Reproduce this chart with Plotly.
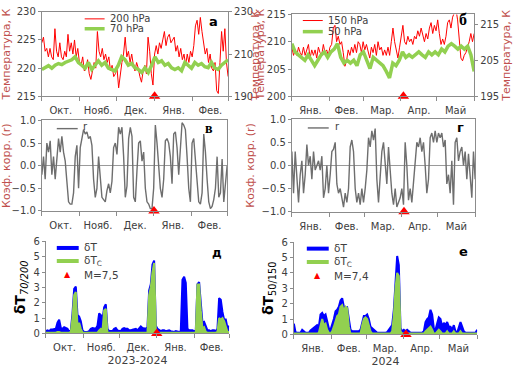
import plotly.graph_objects as go
import pandas as pd

W, H = 514, 373

# ---------------- data ----------------
start_1, end_1 = "2023-10-01", "2024-03-01"
start_2, end_2 = "2024-01-01", "2024-06-01"
quake_1 = "2024-01-01"   # M=7,5
quake_2 = "2024-04-03"   # M=7,4

months_1 = ["Окт.", "Нояб.", "Дек.", "Янв.", "Фев."]
months_2 = ["Янв.", "Фев.", "Мар.", "Апр.", "Май"]

# panel a: 200 hPa (left axis) and 70 hPa (right axis), K
t200 = [224.5, 225.5, 223, 223.5, 222, 223.5, 222, 221.5, 227, 223, 222, 224.5, 222, 221.5, 223, 222,
        226, 223, 224.5, 222.5, 225, 222, 223.5, 221, 220.5, 222, 219.5, 220, 221.5, 219, 218, 219.5,
        221, 220, 226.5, 223, 222, 223.5, 221.5, 222.5, 221, 222, 219.5, 220.5, 218.5, 219, 220, 216.5,
        219, 221, 222.5, 225.5, 222, 223, 221, 222.5, 220.5, 219.5, 221, 220, 218.5, 217.5, 219.5, 220.5,
        219, 225.5, 223, 219, 217, 222.5, 224, 222.5, 224.5, 223.5, 225, 226.5, 224, 225.5, 226, 224.5,
        225, 225.5, 223, 224, 222, 223.5, 221.5, 222.5, 220.5, 222.5, 221, 223, 222, 224, 227.5, 228.5,
        226, 229, 226.5, 224, 222.5, 223.5, 221, 222.5, 220, 219.5, 221, 216, 215.5, 221, 226.5, 223,
        227, 221, 218.5]
t70 = [202.7, 203.5, 204.5, 203.3, 204.7, 205.5, 205.0, 206.0, 206.5, 207.3, 208.7, 206.0, 204.7, 203.3,
       206.0, 202.7, 204.7, 206.8, 204.7, 206.0, 203.3, 202.7, 202.0, 204.7, 208.7, 207.3, 204.7, 205.5,
       203.5, 202.7, 201.3, 203.5, 201.3, 204.7, 208.7, 206.0, 206.8, 204.7, 205.5, 203.5, 202.7, 203.5,
       202.1, 206.0, 204.7, 203.3, 206.0, 204.7, 205.5, 204.0, 203.5, 206.0, 203.3, 202.7, 204.7, 206.0,
       207.3]

# panel b: 150 hPa (left axis) and 50 hPa (right axis), K
t150 = [209, 207.5, 208.5, 207.5, 209, 208, 207.5, 209, 207.5, 208.5, 209.5, 207, 208.5, 207.5, 208.5,
        207, 209, 208, 207.5, 209.5, 208, 208.5, 207.5, 209, 209.5, 212.5, 213, 210, 211, 209.5, 210, 208,
        205.5, 206.5, 208.5, 207.5, 209, 208, 209.5, 208, 210, 209.5, 208, 210, 208.5, 209.5, 208, 207,
        209, 208, 209.5, 207.5, 210, 208.5, 209, 207.5, 208.5, 207.5, 209, 207.5, 210, 212.5, 210, 208.5,
        207, 209, 211, 213, 210, 209.5, 211, 210, 210.5, 209.5, 211, 210.5, 212, 211, 212.5, 211, 210,
        211.5, 210.5, 212.5, 213.5, 211.5, 213, 212, 214, 211.5, 209.5, 210.5, 209.5, 211, 213.5, 214,
        212.5, 214.5, 215.5, 216, 214, 210, 207, 206.5, 207.5, 208, 209, 210, 211.5, 210, 211.5]
t50 = [209.6, 207.3, 206.5, 205.8, 205.0, 206.5, 205.0, 203.5, 205.0, 206.5, 207.3, 205.8, 207.3, 208.1,
       209.6, 205.8, 204.2, 205.0, 204.2, 205.0, 203.5, 206.5, 207.3, 205.0, 202.7, 205.8, 205.0, 204.2,
       203.5, 201.9, 200.1, 204.2, 203.5, 205.0, 207.3, 205.8, 206.5, 205.8, 206.5, 207.3, 206.5, 205.8,
       207.3, 206.5, 207.3, 206.5, 208.1, 207.3, 208.9, 209.6, 208.9, 208.1, 208.9, 208.1, 208.9, 206.5,
       201.9]

# panels c, d: correlation coefficient r
r_1 = [-0.2, 0.2, -0.3, 0.5, 0.3, 0.55, -0.2, 0.2, -0.3, 0.1, 0.6, 0.3, 0.65, 0.3, 0.1, -0.35, -0.8,
       -0.85, -0.85, -0.6, 0.2, 0.45, -0.5, 0.4, 0.6, 0.8, 0.7, 0.75, 0.6, 0.65, 0.45, -0.3, -0.7, -0.5,
       0.2, -0.2, -0.7, -0.75, -0.8, -0.55, -0.4, -0.6, -0.35, 0.4, 0.5, 0.25, 0.85, 0.7, 0.85, 0.2, -0.7,
       -0.45, 0.6, 0.85, 0.65, -0.7, -0.8, -0.1, 0.5, 0.55, 0.1, 0.3, -0.5, -0.8, -0.85, -0.95, -0.95,
       -0.5, 0.9, 0.5, -0.1, -0.5, -0.7, -0.3, 0.55, 0.6, 0.5, 0.2, -0.4, 0.7, 0.75, 0.4, -0.2, 0.5, 0.95,
       0.9, 0.8, 0.2, -0.5, -0.8, 0.5, 0.6, 0.1, -0.4, -0.8, -0.85, -0.6, 0.7, 0.3, -0.3, -0.8, -0.95,
       -0.9, -0.75, -0.5, 0.2, -0.7, -0.6, 0.15, -0.8, -0.3, 0.0]
r_2 = [0.3, -0.6, 0.3, -0.3, -0.8, -0.2, 0.1, -0.6, -0.2, 0.45, 0.0, 0.2, -0.3, 0.3, -0.1, 0.0, 0.1,
       -0.1, 0.2, -0.7, -0.5, 0.0, -0.6, -0.2, 0.3, 0.35, 0.5, -0.4, -0.6, -0.5, -0.7, -0.9, -0.6, -0.8,
       -0.5, 0.4, 0.55, 0.3, -0.5, -0.8, -0.6, -0.85, -0.5, -0.8, -0.5, -0.1, 0.6, 0.4, 0.75, 0.55, 0.8,
       -0.3, -0.8, -0.3, 0.3, 0.5, 0.0, -0.4, 0.4, -0.2, -0.6, -0.85, -0.5, -0.9, -0.8, -0.7, -0.5, -0.85,
       0.5, 0.0, -0.75, -0.5, -0.8, -0.3, 0.1, 0.5, 0.4, 0.6, 0.3, 0.5, 0.0, -0.6, -0.3, 0.6, 0.7, 0.5,
       0.75, 0.5, 0.7, 0.6, 0.7, 0.4, 0.55, -0.4, -0.2, -0.6, 0.1, -0.85, 0.5, 0.6, 0.1, 0.3, 0.4, 0.0,
       0.3, -0.3, 0.25, -0.3, -0.7, 0.3, -0.3]

# panels e, f: dT and dTc
dT_1 = [0.15, 0.2, 0.15, 0.25, 0.25, 0.3, 0.3, 0.7, 0.9, 0.35, 0.3, 0.4, 0.35, 0.3, 0.1, 0.2, 1.3, 2.9,
        3.05, 1.2, 1.1, 0.8, 0.2, 0.1, 0.1, 0.1, 0.15, 0.3, 0.35, 0.3, 0.3, 0.5, 1.3, 1.2, 0.9, 1.7, 1.9,
        0.3, 0.15, 0.15, 0.15, 0.3, 0.35, 0.2, 0.15, 0.15, 0.3, 0.35, 0.3, 0.3, 0.2, 0.2, 0.25, 0.3, 0.3,
        0.2, 0.3, 0.45, 0.35, 0.3, 0.3, 0.4, 2.8, 3.2, 4.5, 4.75, 0.5, 0.3, 0.2, 0.15, 0.2, 0.2, 0.15,
        0.2, 0.2, 0.15, 0.1, 0.1, 0.15, 0.1, 0.1, 0.15, 3.5, 3.7, 3.3, 0.3, 0.2, 0.2, 0.2, 0.15, 0.2, 3.2,
        3.35, 2.0, 0.7, 0.75, 0.4, 0.2, 0.2, 0.15, 0.2, 0.2, 0.15, 0.3, 2.3, 2.2, 1.4, 0.9, 0.9, 0.35,
        0.5]
dTc_1 = [0.05, 0.05, 0.05, 0.05, 0.05, 0.05, 0.05, 0.1, 0.1, 0.05, 0.05, 0.05, 0.05, 0.05, 0.05, 0.1,
         1.0, 2.5, 2.7, 0.5, 0.7, 0.3, 0.05, 0.05, 0.05, 0.05, 0.05, 0.05, 0.05, 0.05, 0.05, 0.05, 0.2,
         0.3, 0.2, 1.5, 1.6, 0.05, 0.05, 0.05, 0.05, 0.05, 0.05, 0.05, 0.05, 0.05, 0.05, 0.05, 0.05, 0.05,
         0.05, 0.05, 0.05, 0.05, 0.05, 0.05, 0.05, 0.05, 0.05, 0.05, 0.05, 0.05, 2.5, 3.0, 4.0, 4.6, 0.3,
         0.05, 0.05, 0.05, 0.05, 0.05, 0.05, 0.05, 0.05, 0.05, 0.05, 0.05, 0.05, 0.05, 0.05, 0.05, 0.05,
         0.05, 0.05, 0.05, 0.05, 0.05, 0.05, 0.05, 0.05, 3.2, 3.2, 1.5, 0.3, 0.4, 0.1, 0.05, 0.05, 0.05,
         0.05, 0.05, 0.05, 0.1, 1.0, 0.9, 1.0, 0.8, 0.5, 0.1, 0.1]
dT_2 = [0.7, 0.15, 0.1, 0.1, 0.1, 0.3, 0.2, 0.1, 0.1, 0.1, 0.25, 0.35, 0.4, 0.5, 0.6, 0.5, 1.3, 1.4,
        1.2, 1.3, 0.8, 0.4, 0.3, 0.6, 1.0, 1.5, 1.6, 1.8, 2.2, 2.35, 1.8, 1.7, 1.75, 1.0, 0.3, 0.2, 0.2,
        0.2, 0.2, 0.2, 0.3, 0.8, 1.2, 1.2, 1.3, 1.0, 0.5, 0.4, 0.3, 0.2, 0.1, 0.1, 0.1, 0.1, 0.1, 0.1,
        0.15, 0.3, 0.5, 0.6, 1.6, 3.5, 5.1, 4.5, 0.4, 0.2, 0.3, 0.2, 0.3, 0.2, 0.1, 0.1, 0.1, 0.1, 0.1,
        0.1, 0.1, 0.1, 0.2, 0.8, 1.0, 1.1, 1.6, 1.3, 0.4, 0.3, 0.7, 1.1, 1.0, 0.5, 0.75, 0.6, 0.8, 0.5,
        0.5, 0.3, 0.6, 0.2, 0.1, 0.5, 0.8, 0.5, 0.2, 0.1, 0.1, 0.1, 0.1, 0.1, 0.1, 0.1, 0.3]
dTc_2 = [0.05, 0.05, 0.05, 0.05, 0.05, 0.05, 0.05, 0.05, 0.05, 0.05, 0.05, 0.05, 0.05, 0.05, 0.05, 0.1,
         0.6, 1.0, 0.6, 0.7, 0.3, 0.1, 0.05, 0.2, 0.5, 0.9, 1.2, 1.3, 1.8, 1.9, 1.5, 1.8, 1.7, 0.5, 0.05,
         0.05, 0.05, 0.05, 0.05, 0.05, 0.05, 0.6, 1.0, 1.1, 1.0, 0.6, 0.2, 0.05, 0.05, 0.05, 0.05, 0.05,
         0.05, 0.05, 0.05, 0.05, 0.05, 0.05, 0.05, 0.2, 1.2, 3.0, 4.0, 3.8, 0.2, 0.05, 0.05, 0.05, 0.05,
         0.05, 0.05, 0.05, 0.05, 0.05, 0.05, 0.05, 0.05, 0.05, 0.05, 0.2, 0.3, 0.4, 0.5, 0.3, 0.05, 0.05,
         0.2, 0.3, 0.2, 0.05, 0.05, 0.05, 0.2, 0.05, 0.05, 0.05, 0.2, 0.05, 0.05, 0.05, 0.2, 0.05, 0.05,
         0.05, 0.05, 0.05, 0.05, 0.05, 0.05, 0.05, 0.05]


def dates(s, e, n):
    return pd.date_range(s, e, periods=n)


def month_ticks(s, e):
    b = pd.date_range(s, e, freq="MS")
    mids = [b[i] + (b[i + 1] - b[i]) / 2 for i in range(len(b) - 1)]
    return list(b), mids


def dx(x0, x1):
    return [x0 / W, x1 / W]


def dy(y0, y1):
    return [1 - y1 / H, 1 - y0 / H]


RED = "#FF0000"
GREEN = "#92D050"
BLUE = "#0000FF"
GREY = "#6e6e6e"
AXC = "#8c8c8c"
TITLEC = "#C0504D"
TXT = "#404040"

fig = go.Figure()


def line(x, y, xa, ya, color, width, fill=None):
    fig.add_trace(go.Scatter(x=x, y=y, mode="lines", line=dict(color=color, width=width),
                             fill=fill, fillcolor=color if fill else None,
                             xaxis=xa, yaxis=ya, showlegend=False, hoverinfo="skip"))


def quake(x, y, xa, ya):
    fig.add_trace(go.Scatter(x=[x], y=[y], mode="markers", cliponaxis=False, showlegend=False,
                             marker=dict(symbol="triangle-up", size=10, color=RED),
                             xaxis=xa, yaxis=ya))


# panel a
line(dates(start_1, end_1, len(t200)), t200, "x", "y", RED, 1)
line(dates(start_1, end_1, len(t70)), t70, "x", "y2", GREEN, 3.5)
quake(quake_1, 215, "x", "y")
# panel b
line(dates(start_2, end_2, len(t150)), t150, "x2", "y3", RED, 1)
line(dates(start_2, end_2, len(t50)), t50, "x2", "y4", GREEN, 3.5)
quake(quake_2, 200, "x2", "y3")
# panel c
line(dates(start_1, end_1, len(r_1)), r_1, "x3", "y5", GREY, 1.4)
quake(quake_1, -1, "x3", "y5")
# panel d
line(dates(start_2, end_2, len(r_2)), r_2, "x4", "y6", GREY, 1.4)
quake(quake_2, -1, "x4", "y6")
# panel e
line(dates(start_1, end_1, len(dT_1)), dT_1, "x5", "y7", BLUE, 2, fill="tozeroy")
line(dates(start_1, end_1, len(dTc_1)), dTc_1, "x5", "y7", GREEN, 2, fill="tozeroy")
quake(quake_1, 0, "x5", "y7")
# panel f
line(dates(start_2, end_2, len(dT_2)), dT_2, "x6", "y8", BLUE, 2, fill="tozeroy")
line(dates(start_2, end_2, len(dTc_2)), dTc_2, "x6", "y8", GREEN, 2, fill="tozeroy")
quake(quake_2, 0, "x6", "y8")


def xaxis(dom, anchor, s, e, labels, mirror=True, title=None):
    b, mids = month_ticks(s, e)
    d = dict(domain=dom, anchor=anchor, type="date", range=[s, e], showgrid=False, zeroline=False,
             showline=True, linecolor=AXC, linewidth=1, mirror=mirror,
             tickmode="array", tickvals=mids, ticktext=labels, ticks="", ticklabelstandoff=5,
             tickfont=dict(size=10, color=TXT),
             minor=dict(tickmode="array", tickvals=b, ticks="outside", ticklen=4, tickcolor=AXC,
                        showgrid=False))
    if title:
        d["title"] = dict(text=title, font=dict(size=11, color=TXT), standoff=3)
    return d


def yaxis(dom, anchor, rng, tv, title, tfont, side="left", overlay=None, mirror=True, fmt=None,
          zero=False):
    d = dict(anchor=anchor, range=rng, tickmode="array", tickvals=tv, showgrid=False,
             zeroline=zero, zerolinecolor="#9a9a9a", zerolinewidth=1,
             showline=True, linecolor=AXC, linewidth=1, mirror=mirror, ticks="outside", ticklen=3,
             tickcolor=AXC, tickfont=dict(size=10, color=TXT), side=side,
             title=dict(text=title, font=tfont, standoff=4))
    if overlay:
        d["overlaying"] = overlay
    else:
        d["domain"] = dom
    if fmt:
        d["tickformat"] = fmt
    return d


tfont = dict(size=11, color=TITLEC)
dfont = dict(size=14, color="#000000")

layout = dict(
    width=W, height=H, autosize=False, margin=dict(l=0, r=0, t=0, b=0),
    paper_bgcolor="white", plot_bgcolor="white", showlegend=False,
    font=dict(family="DejaVu Sans", size=10, color=TXT),
    xaxis=xaxis(dx(40, 227), "y", start_1, end_1, months_1),
    yaxis=yaxis(dy(6, 93.3), "x", [215, 230], [215, 220, 225, 230], "Температура, К", tfont),
    yaxis2=yaxis(None, "x", [190, 230], [190, 210, 230], "Температура, К", tfont, side="right",
                 overlay="y", mirror=False),
    xaxis2=xaxis(dx(291, 474), "y3", start_2, end_2, months_2),
    yaxis3=yaxis(dy(8.7, 93.3), "x2", [200, 215], [200, 205, 210, 215], "Температура, К", tfont),
    yaxis4=yaxis(None, "x2", [195, 217.7], [195, 205, 215], "Температура, К", tfont, side="right",
                 overlay="y3", mirror=False),
    xaxis3=xaxis(dx(40, 226), "y5", start_1, end_1, months_1),
    yaxis5=yaxis(dy(118.3, 211.7), "x3", [-1, 1], [-1, -0.5, 0, 0.5, 1], "Коэф. корр. (r)", tfont,
                 fmt=".1f", zero=True),
    xaxis4=xaxis(dx(291, 475), "y6", start_2, end_2, months_2),
    yaxis6=yaxis(dy(117, 212.5), "x4", [-1, 1], [-1, -0.5, 0, 0.5, 1], "Коэф. корр. (r)", tfont,
                 fmt=".1f", zero=True),
    xaxis5=xaxis(dx(44, 228), "y7", start_1, end_1, months_1, mirror=False, title="2023-2024"),
    yaxis7=yaxis(dy(243.3, 338.3), "x5", [0, 6], [0, 1, 2, 3, 4, 5, 6],
                 "<b>δT</b><sub><i>70/200</i></sub>", dfont, mirror=False),
    xaxis6=xaxis(dx(293, 477), "y8", start_2, end_2, months_2, mirror=False, title="2024"),
    yaxis8=yaxis(dy(244, 339.3), "x6", [0, 6], [0, 1, 2, 3, 4, 5, 6],
                 "<b>δT</b><sub>50/150</sub>", dfont, mirror=False),
)

# ---- legends (key samples + labels), pixel positions ----
key_lines = [  # x0, x1, y, colour, width
    (83, 103, 13.3, RED, 1), (83, 103, 23.5, GREEN, 3.5),
    (302, 322, 15, RED, 1), (302, 322, 26.5, GREEN, 3.5),
    (55, 76, 126.7, GREY, 1.4),
    (307, 328, 126, GREY, 1.4),
    (55, 77, 250, BLUE, 4), (55, 77, 263.5, GREEN, 4),
    (306, 328, 250.7, BLUE, 4), (306, 328, 264.5, GREEN, 4),
]
layout["shapes"] = [
    dict(type="line", xref="paper", yref="paper", x0=a / W, x1=b / W, y0=1 - y / H, y1=1 - y / H,
         line=dict(color=c, width=w))
    for a, b, y, c, w in key_lines
]
key_texts = [  # text, x, y, size, colour
    ("200 hPa", 107, 13.3, 10, TXT), ("70 hPa", 107, 23.5, 10, TXT),
    ("150 hPa", 326, 15, 10, TXT), ("50 hPa", 326, 26.5, 10, TXT),
    ("r", 80, 124.5, 10, TXT), ("r", 333, 124, 10, TXT),
    ("δT", 81, 249.5, 10.5, TXT), ("δT<sub>C</sub>", 81, 263, 10.5, TXT), ("M=7,5", 81, 277.5, 10.5, TXT),
    ("δT", 332, 250.2, 10.5, TXT), ("δT<sub>C</sub>", 332, 264, 10.5, TXT), ("M=7,4", 332, 279, 10.5, TXT),
]
annots = [
    dict(text=t, x=x / W, y=1 - y / H, xref="paper", yref="paper", showarrow=False,
         font=dict(size=s, color=c), xanchor="left", yanchor="middle", borderpad=0)
    for t, x, y, s, c in key_texts
]
annots += [
    dict(text="▲", x=x / W, y=1 - y / H, xref="paper", yref="paper", showarrow=False,
         font=dict(size=8, color=RED), xanchor="center", yanchor="middle", borderpad=0)
    for x, y in [(66, 277), (317, 278.5)]
]
letters = [
    ("а", 212, 16, "DejaVu Sans", 13),
    ("б", 463, 14, "Liberation Serif", 16),
    ("в", 208, 127, "Liberation Serif", 14),
    ("г", 460, 126, "DejaVu Sans", 13),
    ("д", 216, 255, "DejaVu Sans", 12),
    ("е", 463, 254, "DejaVu Sans", 13),
]
annots += [
    dict(text=f"<b>{t}</b>", x=x / W, y=1 - y / H, xref="paper", yref="paper", showarrow=False,
         font=dict(family=f, size=s, color="#000000"), xanchor="center", yanchor="middle")
    for t, x, y, f, s in letters
]
layout["annotations"] = annots

fig.update_layout(**layout)
fig.write_html("out.html", config={"displayModeBar": False},
               post_script="document.body.style.margin='0';")
